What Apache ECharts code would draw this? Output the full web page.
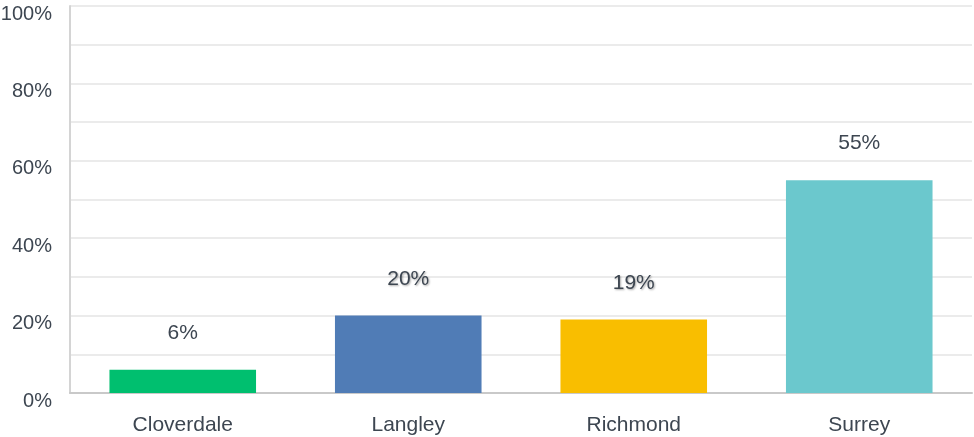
<!DOCTYPE html>
<html>
<head>
<meta charset="utf-8">
<script src="https://cdn.jsdelivr.net/npm/echarts@6/dist/echarts.min.js"></script>
<style>
  html, body { margin: 0; padding: 0; background: #fff; }
  #chart { width: 974px; height: 437px; }
</style>
</head>
<body>
<div id="chart"></div>
<script>
// Share of responses by location (percent)
const categories = ['Cloverdale', 'Langley', 'Richmond', 'Surrey'];
const shares = [6, 20, 19, 55];
const barColors = ['#00bf6f', '#507cb6', '#f9be00', '#6bc8cd'];
const shadowed = [false, true, true, false];

const chart = echarts.init(document.getElementById('chart'));
const textColor = '#3d4651';
const fontFamily = '"Liberation Sans", Arial, Helvetica, sans-serif';

chart.setOption({
  animation: false,
  grid: { left: 70, right: 2, top: 6, bottom: 44, containLabel: false, outerBoundsMode: 'none' },
  xAxis: {
    type: 'category',
    data: categories,
    axisTick: { show: false },
    axisLine: { lineStyle: { color: '#c9c9c9', width: 2 } },
    axisLabel: { color: textColor, fontSize: 21, fontFamily: fontFamily, margin: 22 }
  },
  yAxis: {
    type: 'value',
    min: 0,
    max: 100,
    interval: 10,
    axisLine: { show: true, lineStyle: { color: '#d4d4d4', width: 2 } },
    axisTick: { show: false },
    splitLine: { lineStyle: { color: '#ebebeb', width: 2 } },
    axisLabel: {
      color: textColor,
      fontSize: 20,
      fontFamily: fontFamily,
      margin: 18,
      verticalAlign: 'top',
      lineHeight: 16,
      formatter: v => (v % 20 === 0 ? v + '%' : '')
    }
  },
  series: [{
    type: 'bar',
    barWidth: '65%',
    data: shares.map((v, i) => ({
      value: v,
      itemStyle: { color: barColors[i] },
      label: shadowed[i]
        ? { textShadowColor: 'rgba(0,0,0,0.35)', textShadowBlur: 2, textShadowOffsetX: 1, textShadowOffsetY: 1 }
        : {}
    })),
    label: {
      show: true,
      position: 'top',
      distance: 26,
      color: textColor,
      fontSize: 21,
      fontFamily: fontFamily,
      formatter: p => p.value + '%'
    }
  }]
});
</script>
</body>
</html>
